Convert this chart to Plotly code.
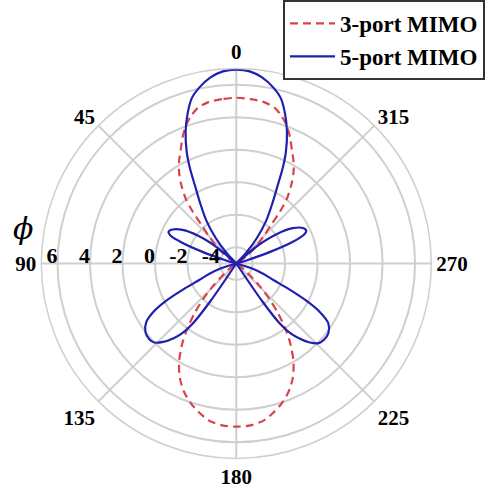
import plotly.graph_objects as go

# ---- data (angle phi in degrees, gain in dB) ----
phi_3port = [0, 5, 10, 14, 17, 20, 23, 26, 29, 32, 35, 38, 40, 42, 45, 48, 52, 57, 62, 90,
             118, 124, 128, 131, 134, 137, 140, 143, 146, 150, 154, 158, 162, 166, 170, 175, 180,
             185, 190, 194, 198, 202, 206, 210, 214, 217, 220, 223, 226, 229, 232, 236, 242, 270,
             298, 303, 308, 312, 315, 318, 320, 322, 325, 328, 331, 334, 337, 340, 343, 346, 350, 355, 360]
r_3port = [5.2, 5.15, 5.07, 4.85, 4.5, 4.05, 3.45, 2.8, 2.25, 1.65, 0.9, 0.05, -0.8, -1.8, -2.6, -3.2, -3.9, -4.6, -5.0, -5.0,
           -5.0, -4.8, -4.4, -3.9, -3.0, -2.0, -1.0, 0.0, 0.95, 2.05, 2.9, 3.55, 4.05, 4.45, 4.8, 5.0, 5.04,
           5.0, 4.8, 4.45, 4.05, 3.55, 2.9, 2.05, 0.95, 0.0, -1.0, -2.0, -3.0, -3.9, -4.4, -4.8, -5.0, -5.0,
           -5.0, -4.6, -3.9, -3.2, -2.6, -1.8, -0.8, 0.05, 0.9, 1.65, 2.25, 2.8, 3.45, 4.05, 4.5, 4.85, 5.07, 5.15, 5.2]

phi_5port = [0, 4, 8, 12, 15, 18, 21, 24, 26, 28, 31, 35, 39, 43, 46, 50, 54, 58, 62, 65, 67, 69, 71, 73, 75, 90,
             105, 108, 111, 114, 116, 118, 120, 123, 127, 131, 134, 137, 140, 142, 144, 145.5, 147, 180,
             213, 214.5, 216, 218, 220, 223, 226, 229, 233, 237, 240, 242, 244, 246, 249, 252, 255, 270,
             285, 287, 289, 291, 293, 295, 298, 302, 306, 310, 314, 317, 321, 325, 329, 332, 334, 336, 339, 342,
             345, 348, 352, 356, 360]
r_5port = [6.93, 6.85, 6.55, 6.05, 5.55, 4.7, 3.7, 2.5, 1.5, 0.4, -0.7, -1.8, -3.0, -4.2, -5.0, -3.5, -2.1, -1.1, -0.55, -0.4, -0.6, -1.4, -2.8, -4.3, -5.0, -5.0,
           -5.0, -3.9, -3.2, -2.5, -1.4, -0.1, 0.8, 1.6, 2.0, 2.1, 2.0, 1.6, 1.0, 0.5, -0.4, -2.2, -5.0, -5.0,
           -5.0, -2.2, -0.4, 0.5, 1.0, 1.65, 2.05, 2.15, 2.1, 1.75, 0.9, -0.1, -1.4, -2.5, -3.2, -3.9, -5.0, -5.0,
           -5.0, -4.3, -2.8, -1.3, -0.5, -0.25, -0.35, -0.9, -1.9, -3.3, -5.0, -4.2, -3.0, -1.8, -0.7, 0.4, 1.5, 2.5, 3.7, 4.7,
           5.55, 6.05, 6.55, 6.85, 6.93]

angle_ticks = [0, 45, 90, 135, 180, 225, 270, 315]
radial_ticks = [-4, -2, 0, 2, 4, 6]
radial_range = [-5, 7]

SERIF = "Liberation Serif, Times New Roman, serif"
GRID = "#cfcfcf"

fig = go.Figure()
fig.add_trace(go.Scatterpolar(
    r=r_3port, theta=phi_3port, mode="lines", name="3-port MIMO",
    line=dict(color="#d8434c", width=2.2, dash="8px,5px", shape="spline", smoothing=0.8),
))
fig.add_trace(go.Scatterpolar(
    r=r_5port, theta=phi_5port, mode="lines", name="5-port MIMO",
    line=dict(color="#2020b0", width=2.2, shape="spline", smoothing=0.8),
))

cx, cy, R = 236.3, 263.5, 195.0
W, H = 487, 490
fig.update_layout(
    width=W, height=H,
    margin=dict(l=0, r=0, t=0, b=0),
    paper_bgcolor="white",
    showlegend=True,
    polar=dict(
        domain=dict(x=[(cx - R) / W, (cx + R) / W], y=[(H - cy - R) / H, (H - cy + R) / H]),
        bgcolor="white",
        angularaxis=dict(
            direction="counterclockwise", rotation=90,
            tickmode="array", tickvals=angle_ticks, ticktext=[str(a) for a in angle_ticks],
            ticks="", ticklen=0, showline=True, linecolor=GRID, linewidth=1.5,
            gridcolor=GRID, gridwidth=1.5,
            tickfont=dict(family=SERIF, size=21, color="black", weight="bold"),
        ),
        radialaxis=dict(
            range=radial_range, angle=180, tickangle=180,
            tickmode="array", tickvals=radial_ticks, ticktext=[str(v) for v in radial_ticks],
            ticks="", ticklen=0, showline=False, gridcolor=GRID, gridwidth=1.5,
            tickfont=dict(family=SERIF, size=22, color="black", weight="bold"),
        ),
    ),
    legend=dict(
        x=283 / W, y=1.0, xanchor="left", yanchor="top",
        bgcolor="white", bordercolor="#333333", borderwidth=2,
        font=dict(family=SERIF, size=23, color="black", weight="bold"),
        itemwidth=45, tracegroupgap=0,
    ),
    annotations=[dict(
        text="<i>ϕ</i>", x=11 / W, y=1 - 228 / H, xref="paper", yref="paper",
        showarrow=False, font=dict(family="DejaVu Serif, Liberation Serif, serif", size=30, color="black"),
    )],
)

fig.write_html("out.html", config={"displayModeBar": False},
               post_script="document.body.style.margin='0px';document.body.style.overflow='hidden';")
